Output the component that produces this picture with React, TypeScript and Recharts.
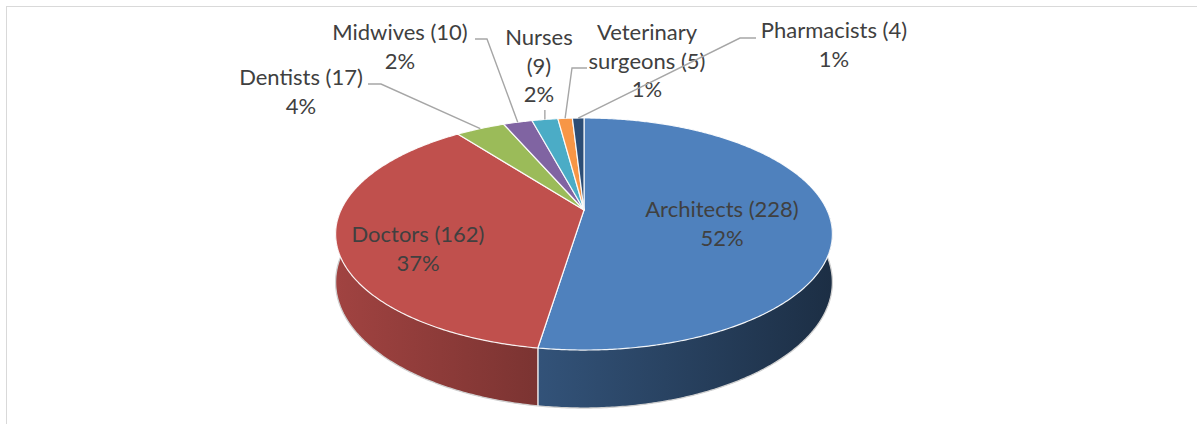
import { PieChart, Pie } from 'recharts';

// professions and number of people
const categories = [
  'Architects',
  'Doctors',
  'Dentists',
  'Midwives',
  'Nurses',
  'Veterinary surgeons',
  'Pharmacists',
];
const counts = [228, 162, 17, 10, 9, 5, 4];

const COLORS = ['#4F81BD', '#C0504D', '#9BBB59', '#8064A2', '#4BACC6', '#F79646', '#2C4D75'];

// fake 3D: tilt, perspective and thickness of the disc
const RY_RATIO = 0.457;
const PERSP = 0.207;
const DEPTH_RATIO = 46 / 243;

// wrap: 0 = "Name (n)" / pct, 1 = name / (n) / pct, 2 = first word / rest (n) / pct
const LABEL_LAYOUT = [
  { x: 722, y: 217, wrap: 0 },
  { x: 418, y: 242, wrap: 0 },
  { x: 301, y: 85, wrap: 0, leader: [[368, 84], [381, 84]] },
  { x: 400, y: 40, wrap: 0, leader: [[475, 39], [487, 39]] },
  { x: 539, y: 45, wrap: 1, leader: [[null, 110]] },
  { x: 647, y: 40, wrap: 2, leader: [[587, 68], [572, 68]] },
  { x: 834, y: 38, wrap: 0, leader: [[756, 38], [740, 38]] },
];

const LINE_H = 28.5;
const TEXT_COLOR = '#404040';
const FONT = 'Lato, "Open Sans", sans-serif';

const total = counts.reduce((s, v) => s + v, 0);
const data = categories.map((name, i) => ({ name, value: counts[i] }));

function project(cx: number, cy: number, r: number, angleDeg: number, level: number) {
  const a = (angleDeg * Math.PI) / 180;
  const u = Math.cos(a);
  const v = -Math.sin(a);
  const s = 1 / (1 - PERSP * v);
  return [cx + r * u * s, cy + r * RY_RATIO * v * s + level * r * DEPTH_RATIO * s];
}

function arcPoints(cx: number, cy: number, r: number, from: number, to: number, level: number) {
  const steps = Math.max(2, Math.ceil(Math.abs(to - from) / 0.5));
  const pts: number[][] = [];
  for (let k = 0; k <= steps; k++) {
    pts.push(project(cx, cy, r, from + ((to - from) * k) / steps, level));
  }
  return pts;
}

const toPath = (pts: number[][]) =>
  pts.map((p, i) => `${i === 0 ? 'M' : 'L'}${p[0].toFixed(2)},${p[1].toFixed(2)}`).join(' ');

function shade(hex: string, f: number) {
  const n = parseInt(hex.slice(1), 16);
  const c = [(n >> 16) & 255, (n >> 8) & 255, n & 255].map((x) => Math.round(x * f));
  return `rgb(${c.join(',')})`;
}

function Slice3D(props: any) {
  const { cx, cy, outerRadius, startAngle, endAngle, index } = props;
  const color = COLORS[index % COLORS.length];
  const r = outerRadius;

  const top = [[cx, cy], ...arcPoints(cx, cy, r, startAngle, endAngle, 0)];

  // visible wall: front half of the disc (angles between -180 and 0)
  const lo = Math.max(Math.min(startAngle, endAngle), -180);
  const hi = Math.min(Math.max(startAngle, endAngle), 0);
  let side = null;
  if (hi > lo) {
    const upper = arcPoints(cx, cy, r, hi, lo, 0);
    const lower = arcPoints(cx, cy, r, lo, hi, 1);
    const gid = `side-grad-${index}`;
    const edges: number[] = [];
    [startAngle, endAngle].forEach((a) => {
      if (a > -180 && a < 0) edges.push(a);
    });
    side = (
      <g>
        <defs>
          <linearGradient id={gid} gradientUnits="userSpaceOnUse" x1={cx - r * 1.03} y1={0} x2={cx + r * 1.03} y2={0}>
            <stop offset="0%" stopColor={shade(color, 0.84)} />
            <stop offset="45%" stopColor={shade(color, 0.62)} />
            <stop offset="100%" stopColor={shade(color, 0.36)} />
          </linearGradient>
        </defs>
        <path d={`${toPath([...upper, ...lower])} Z`} fill={`url(#${gid})`} stroke="none" />
        <path d={toPath(lower)} fill="none" stroke="#d0d0d0" strokeWidth={1.3} />
        {edges.map((a) => {
          const p0 = project(cx, cy, r, a, 0);
          const p1 = project(cx, cy, r, a, 1);
          return (
            <line key={a} x1={p0[0]} y1={p0[1]} x2={p1[0]} y2={p1[1]} stroke="rgba(255,255,255,0.85)" strokeWidth={1.2} />
          );
        })}
      </g>
    );
  }

  return (
    <g>
      {side}
      <path
        d={`${toPath(top)} Z`}
        fill={color}
        stroke="rgba(255,255,255,0.9)"
        strokeWidth={1.2}
        strokeLinejoin="round"
      />
    </g>
  );
}

function renderLabel(props: any) {
  const { cx, cy, outerRadius, midAngle, index } = props;
  const layout = LABEL_LAYOUT[index];
  const name = categories[index];
  const value = counts[index];
  const pct = `${Math.round((value / total) * 100)}%`;

  let lines: string[];
  if (layout.wrap === 1) {
    lines = [name, `(${value})`, pct];
  } else if (layout.wrap === 2) {
    const words = name.split(' ');
    lines = [words[0], `${words.slice(1).join(' ')} (${value})`, pct];
  } else {
    lines = [`${name} (${value})`, pct];
  }

  let leader = null;
  if (layout.leader) {
    const rim = project(cx, cy, outerRadius, midAngle, 0);
    const pts = layout.leader.map((p: any[]) => [p[0] ?? rim[0], p[1]]);
    pts.push(rim);
    leader = <path d={toPath(pts)} fill="none" stroke="#a6a6a6" strokeWidth={1.4} />;
  }

  return (
    <g key={`label-${index}`}>
      {leader}
      <text
        x={layout.x}
        y={layout.y}
        textAnchor="middle"
        fontFamily={FONT}
        fontSize={22}
        fill={TEXT_COLOR}
      >
        {lines.map((l, i) => (
          <tspan key={i} x={layout.x} y={layout.y + i * LINE_H}>
            {l}
          </tspan>
        ))}
      </text>
    </g>
  );
}

export default function App() {
  return (
    <div
      style={{
        position: 'fixed',
        left: 0,
        top: 0,
        width: 1197,
        height: 424,
        overflow: 'hidden',
        background: '#fff',
      }}
    >
      <div
        style={{
          position: 'absolute',
          left: 6,
          top: 6,
          width: 1400,
          height: 800,
          borderTop: '1.5px solid #d9d9d9',
          borderLeft: '1.5px solid #d9d9d9',
        }}
      />
      <div style={{ position: 'absolute', left: 0, top: 0 }}>
        <PieChart width={1197} height={424} margin={{ top: 0, right: 0, bottom: 0, left: 0 }}>
          <Pie
            data={data}
            dataKey="value"
            nameKey="name"
            cx={584}
            cy={210}
            outerRadius={243}
            startAngle={90}
            endAngle={-270}
            stroke="none"
            shape={Slice3D}
            label={renderLabel}
            labelLine={false}
            isAnimationActive={false}
          />
        </PieChart>
      </div>
    </div>
  );
}
